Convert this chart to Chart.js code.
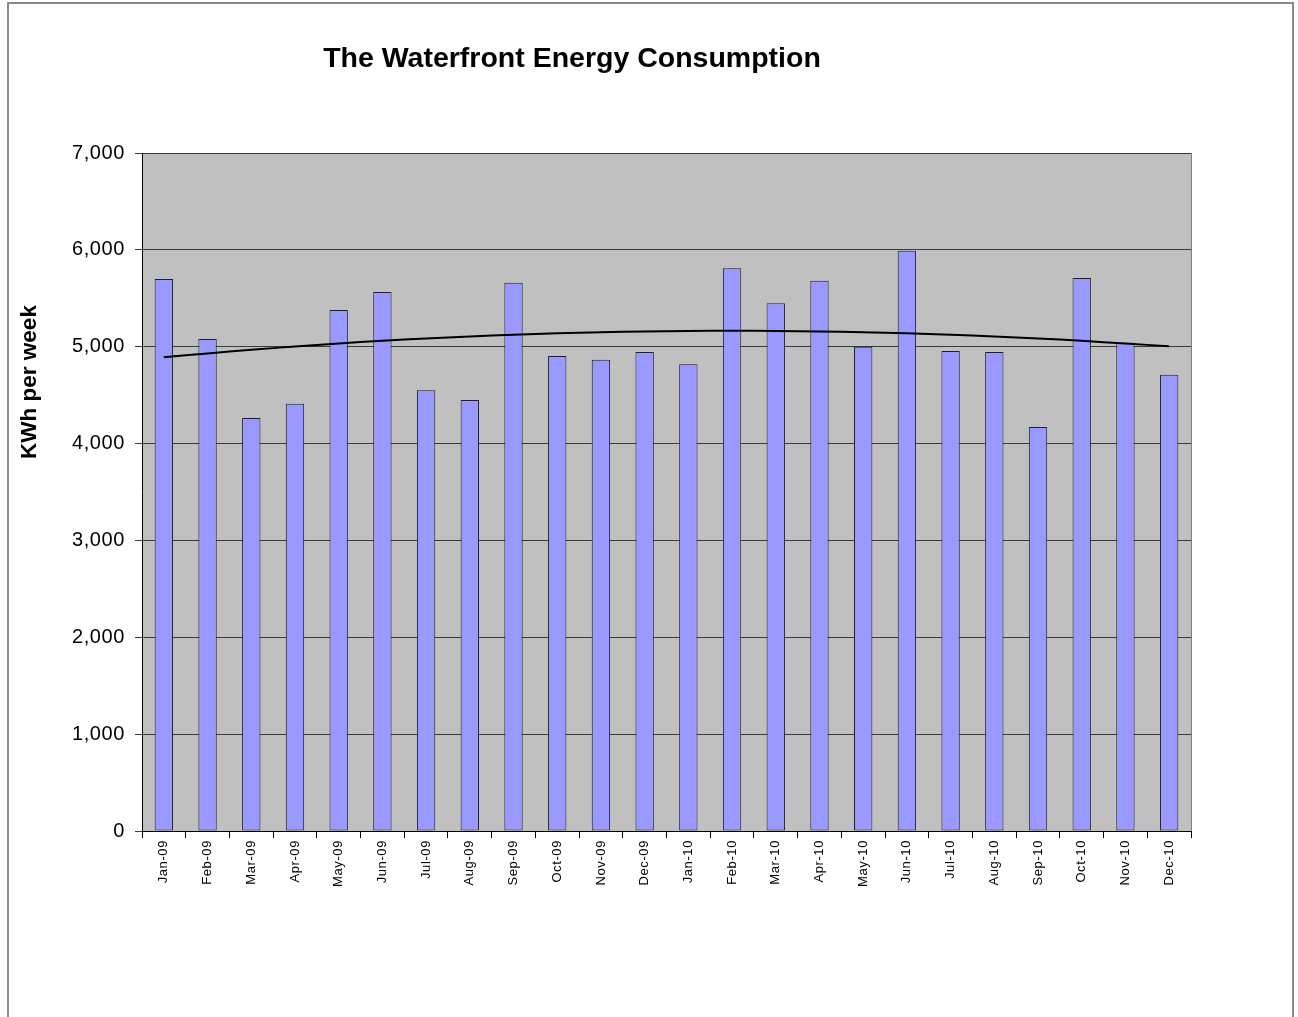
<!DOCTYPE html>
<html>
<head>
<meta charset="utf-8">
<script src="https://cdn.jsdelivr.net/npm/chart.js@4.4.1/dist/chart.umd.min.js"></script>
<style>
    html, body { margin: 0; padding: 0; background: #ffffff; }
    #wrap { position: relative; width: 1298px; height: 1017px; }
</style>
</head>
<body>
<div id="wrap"><canvas id="chartEnergia" width="1298" height="1017"></canvas></div>
<script>
// Datos
const meses = [
    'Jan-09', 'Feb-09', 'Mar-09', 'Apr-09', 'May-09', 'Jun-09',
    'Jul-09', 'Aug-09', 'Sep-09', 'Oct-09', 'Nov-09', 'Dec-09',
    'Jan-10', 'Feb-10', 'Mar-10', 'Apr-10', 'May-10', 'Jun-10',
    'Jul-10', 'Aug-10', 'Sep-10', 'Oct-10', 'Nov-10', 'Dec-10'
];
const consumo = [
    5700, 5080, 4265, 4410, 5380, 5565,
    4550, 4450, 5660, 4905, 4865, 4945,
    4820, 5810, 5450, 5680, 5000, 5990,
    4955, 4945, 4170, 5710, 5040, 4710
];
// Linea de tendencia (polinomica)
const tendencia = [
    4890, 4931, 4968, 5002, 5033, 5061,
    5085, 5106, 5124, 5139, 5150, 5158,
    5163, 5165, 5163, 5158, 5150, 5139,
    5124, 5106, 5085, 5061, 5033, 5005
];
const yTicks = [0, 1000, 2000, 3000, 4000, 5000, 6000, 7000];

const fuente = "'Liberation Sans', Arial, sans-serif";

// Fondo gris del area del grafico, marco exterior y textos
const decoracion = {
    id: 'decoracion',
    beforeDraw(chart) {
        const { ctx, chartArea: a } = chart;
        ctx.save();
        ctx.fillStyle = '#ffffff';
        ctx.fillRect(0, 0, chart.width, chart.height);
        ctx.strokeStyle = '#8a8a8a';
        ctx.lineWidth = 2;
        ctx.strokeRect(8, 3, 1285, 1030);
        ctx.fillStyle = '#c0c0c0';
        ctx.fillRect(a.left, a.top, a.right - a.left, a.bottom - a.top);
        ctx.restore();
        // texto algo mas ancho, como en el original
        ctx.letterSpacing = '0.6px';
    },
    afterDraw(chart) {
        const { ctx, chartArea: a } = chart;
        ctx.save();
        ctx.letterSpacing = '0px';
        // borde derecho del area
        ctx.strokeStyle = '#808080';
        ctx.lineWidth = 1;
        ctx.beginPath();
        ctx.moveTo(a.right + 0.5, a.top);
        ctx.lineTo(a.right + 0.5, a.bottom);
        ctx.stroke();
        // titulo
        ctx.fillStyle = '#000000';
        ctx.font = `bold 28.5px ${fuente}`;
        ctx.textAlign = 'center';
        ctx.textBaseline = 'middle';
        ctx.fillText('The Waterfront Energy Consumption', 572, 59);
        // titulo eje Y
        ctx.translate(30, 382);
        ctx.rotate(-Math.PI / 2);
        ctx.font = `bold 22.5px ${fuente}`;
        ctx.fillText('KWh per week', 0, 0);
        ctx.restore();
    }
};

new Chart(document.getElementById('chartEnergia').getContext('2d'), {
    data: {
        labels: meses,
        datasets: [
            {
                type: 'line',
                label: 'Tendencia',
                data: tendencia,
                borderColor: '#000000',
                borderWidth: 2,
                pointRadius: 0,
                tension: 0.4,
                fill: false,
                order: 0
            },
            {
                type: 'bar',
                label: 'KWh',
                data: consumo,
                backgroundColor: '#9999ff',
                borderColor: '#1e1e30',
                borderWidth: 1,
                borderSkipped: false,
                barPercentage: 0.42,
                categoryPercentage: 1.0,
                order: 1
            }
        ]
    },
    options: {
        responsive: false,
        animation: false,
        layout: {
            padding: { top: 153, left: 10, right: 107, bottom: 0 }
        },
        plugins: {
            legend: { display: false },
            tooltip: { enabled: false }
        },
        scales: {
            x: {
                offset: true,
                afterFit(scale) { scale.height = 186; },
                grid: {
                    offset: true,
                    drawOnChartArea: false,
                    color: '#000000',
                    tickLength: 7
                },
                border: { color: '#000000', width: 1 },
                ticks: {
                    minRotation: 90,
                    maxRotation: 90,
                    autoSkip: false,
                    padding: 2,
                    color: '#000000',
                    font: { family: fuente, size: 13 }
                }
            },
            y: {
                min: 0,
                max: 7000,
                afterFit(scale) { scale.width = 132; },
                afterBuildTicks(scale) {
                    scale.ticks = yTicks.map(v => ({ value: v }));
                },
                grid: {
                    color: '#3a3a3a',
                    lineWidth: 1,
                    tickLength: 7
                },
                border: { color: '#000000', width: 1 },
                ticks: {
                    padding: 10,
                    color: '#000000',
                    font: { family: fuente, size: 20 },
                    callback: v => v.toLocaleString('en-US')
                }
            }
        }
    },
    plugins: [decoracion]
});
</script>
</body>
</html>
